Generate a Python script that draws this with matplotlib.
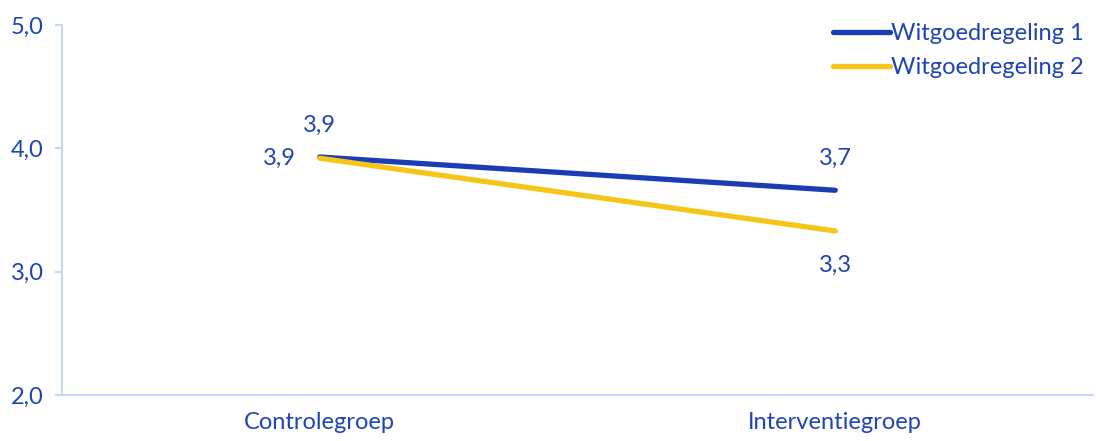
import matplotlib
matplotlib.use("Agg")
import matplotlib.pyplot as plt

categories = ["Controlegroep", "Interventiegroep"]
series_names = ["Witgoedregeling 1", "Witgoedregeling 2"]
regeling1 = [3.93, 3.66]
regeling2 = [3.92, 3.33]
y_ticks = [2.0, 3.0, 4.0, 5.0]

TEXT_BLUE = "#1f45b5"
LINE_BLUE = "#1a3db4"
YELLOW = "#f5c518"
AXIS_COLOR = "#c9d6f7"

plt.rcParams["font.family"] = ["Lato", "DejaVu Sans"]

fig = plt.figure(figsize=(10.96, 4.41), dpi=100)
ax = fig.add_axes([62 / 1096, 1 - 395 / 441, (1093 - 62) / 1096, (395 - 25) / 441])

x = list(range(len(categories)))
ax.plot(x, regeling1, color=LINE_BLUE, lw=3.8, solid_capstyle="round", label=series_names[0], zorder=3)
ax.plot(x, regeling2, color=YELLOW, lw=3.8, solid_capstyle="round", label=series_names[1], zorder=4)

def fmt(v):
    return f"{v:.1f}".replace(".", ",")

fs = 17
# value labels
ax.annotate(fmt(regeling1[0]), (x[0], regeling1[0]), xytext=(0, 23), textcoords="offset points",
            ha="center", va="center", color=TEXT_BLUE, fontsize=fs)
ax.annotate(fmt(regeling2[0]), (x[0], regeling2[0]), xytext=(-29, 0), textcoords="offset points",
            ha="center", va="center", color=TEXT_BLUE, fontsize=fs)
ax.annotate(fmt(regeling1[1]), (x[1], regeling1[1]), xytext=(0, 23), textcoords="offset points",
            ha="center", va="center", color=TEXT_BLUE, fontsize=fs)
ax.annotate(fmt(regeling2[1]), (x[1], regeling2[1]), xytext=(0, -25), textcoords="offset points",
            ha="center", va="center", color=TEXT_BLUE, fontsize=fs)

ax.set_xlim(-0.5, 1.5)
ax.set_ylim(2.0, 5.0)
ax.set_xticks(x)
ax.set_xticklabels(categories)
ax.set_yticks(y_ticks)
ax.set_yticklabels([fmt(v) for v in y_ticks])

for side in ["top", "right"]:
    ax.spines[side].set_visible(False)
for side in ["left", "bottom"]:
    ax.spines[side].set_color(AXIS_COLOR)
    ax.spines[side].set_linewidth(1.5)

ax.tick_params(axis="y", colors=AXIS_COLOR, labelcolor=TEXT_BLUE, labelsize=fs,
               length=5, width=1.5, pad=8)
ax.tick_params(axis="x", length=0, labelcolor=TEXT_BLUE, labelsize=fs, pad=12)

leg = ax.legend(loc="upper right", bbox_to_anchor=(1.0, 1.03), frameon=False, fontsize=fs,
                handlelength=2.4, handletextpad=0.05, labelcolor=TEXT_BLUE,
                labelspacing=0.55, borderaxespad=0)
for h in leg.get_lines():
    h.set_solid_capstyle("round")

fig.savefig("out.png", dpi=100)
